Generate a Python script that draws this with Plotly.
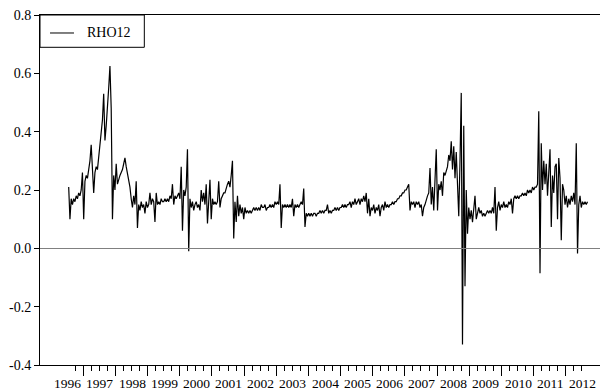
import numpy as np
import plotly.graph_objects as go

# RHO12 conditional correlation, read at roughly two-week intervals
rho12 = [
    0.21, 0.10, 0.17, 0.15, 0.17, 0.16, 0.18, 0.17,
    0.19, 0.18, 0.20, 0.26, 0.10, 0.23, 0.25, 0.24,
    0.27, 0.30, 0.355, 0.28, 0.19, 0.26, 0.28, 0.27,
    0.31, 0.36, 0.39, 0.44, 0.53, 0.37, 0.42, 0.47,
    0.55, 0.625, 0.48, 0.10, 0.25, 0.20, 0.29, 0.22,
    0.24, 0.25, 0.26, 0.27, 0.29, 0.31, 0.28, 0.26,
    0.24, 0.21, 0.17, 0.14, 0.18, 0.15, 0.23, 0.07,
    0.15, 0.13, 0.16, 0.14, 0.15, 0.12, 0.16, 0.14,
    0.15, 0.19, 0.15, 0.17, 0.16, 0.09, 0.19, 0.15,
    0.16, 0.15, 0.17, 0.16, 0.16, 0.17, 0.16, 0.17,
    0.16, 0.18, 0.17, 0.22, 0.15, 0.18, 0.17, 0.18,
    0.19, 0.17, 0.28, 0.06, 0.20, 0.18, 0.21, 0.34,
    -0.01, 0.17, 0.14, 0.16, 0.13, 0.15, 0.16, 0.14,
    0.15, 0.13, 0.20, 0.16, 0.19, 0.15, 0.22, 0.085,
    0.19, 0.235, 0.10, 0.17, 0.15, 0.16, 0.15, 0.16,
    0.23, 0.14, 0.17, 0.18, 0.19, 0.19, 0.21, 0.22,
    0.23, 0.21, 0.25, 0.30, 0.034, 0.16, 0.09, 0.18,
    0.11, 0.15, 0.12, 0.14, 0.10, 0.14, 0.12, 0.13,
    0.12, 0.13, 0.12, 0.13, 0.14, 0.13, 0.14, 0.13,
    0.14, 0.13, 0.15, 0.14, 0.14, 0.15, 0.13, 0.14,
    0.14, 0.15, 0.14, 0.15, 0.14, 0.16, 0.15, 0.16,
    0.15, 0.22, 0.07, 0.15, 0.14, 0.15, 0.14, 0.15,
    0.14, 0.15, 0.14, 0.17, 0.11, 0.15, 0.14, 0.15,
    0.14, 0.15, 0.16, 0.15, 0.205, 0.073, 0.12, 0.11,
    0.12, 0.11, 0.12, 0.11, 0.12, 0.12, 0.11, 0.12,
    0.12, 0.13, 0.12, 0.13, 0.12, 0.13, 0.13, 0.15,
    0.12, 0.13, 0.12, 0.13, 0.13, 0.14, 0.13, 0.14,
    0.13, 0.14, 0.14, 0.15, 0.14, 0.15, 0.14, 0.15,
    0.15, 0.16, 0.14, 0.16, 0.15, 0.17, 0.15, 0.16,
    0.17, 0.15, 0.17, 0.16, 0.18, 0.16, 0.19, 0.12,
    0.17, 0.11, 0.14, 0.13, 0.15, 0.12, 0.14, 0.13,
    0.15, 0.11, 0.14, 0.15, 0.13, 0.16, 0.14, 0.15,
    0.14, 0.15, 0.15, 0.16, 0.15, 0.16, 0.16, 0.17,
    0.17, 0.18, 0.18, 0.19, 0.19, 0.20, 0.20, 0.21,
    0.22, 0.13, 0.16, 0.15, 0.16, 0.14, 0.16, 0.15,
    0.16, 0.14, 0.15, 0.11, 0.14, 0.15, 0.17, 0.18,
    0.19, 0.275, 0.15, 0.21, 0.13, 0.24, 0.34, 0.13,
    0.22, 0.20, 0.23, 0.18, 0.26, 0.25, 0.27, 0.28,
    0.32, 0.30, 0.367, 0.27, 0.35, 0.24, 0.33, 0.22,
    0.11, 0.30, 0.533, -0.33, 0.42, -0.13, 0.20, 0.05,
    0.14, 0.10, 0.13, 0.09, 0.14, 0.18, 0.10, 0.12,
    0.14, 0.12, 0.13, 0.11, 0.12, 0.11, 0.12, 0.13,
    0.12, 0.13, 0.12, 0.14, 0.12, 0.21, 0.06, 0.14,
    0.16, 0.13, 0.15, 0.14, 0.16, 0.14, 0.15, 0.14,
    0.16, 0.15, 0.17, 0.12, 0.17, 0.18, 0.17, 0.18,
    0.17, 0.18, 0.18, 0.19, 0.18, 0.19, 0.18, 0.20,
    0.19, 0.20, 0.19, 0.21, 0.20, 0.21, 0.21, 0.22,
    0.47, -0.085, 0.36, 0.20, 0.30, 0.22, 0.29, 0.18,
    0.26, 0.34, 0.073, 0.25, 0.19, 0.28, 0.29, 0.10,
    0.31, 0.24, 0.028, 0.22, 0.20, 0.15, 0.18, 0.14,
    0.17, 0.15, 0.18, 0.16, 0.19, 0.15, 0.36, -0.018,
    0.15, 0.18, 0.14, 0.16, 0.15, 0.16, 0.15, 0.16,
]

# sample period (decimal years)
first_obs = 1996.546
last_obs = 2012.678

year_labels = [str(y) for y in range(1996, 2013)]
y_tick_vals = [0.8, 0.6, 0.4, 0.2, 0.0, -0.2, -0.4]
y_tick_text = ["0.8", "0.6", "0.4", "0.2", "0.0", "-0.2", "-0.4"]

x_range = [1995.654, 2013.066]
tick_range = [1996.75, 2012.5]

FONT = "Liberation Serif"

t = np.linspace(first_obs, last_obs, len(rho12))

fig = go.Figure()
fig.add_trace(go.Scatter(
    x=t, y=rho12, mode="lines", name="RHO12",
    line=dict(color="black", width=1.2), showlegend=False,
))
# empty trace that carries the quarterly tick axis
fig.add_trace(go.Scatter(x=[], y=[], xaxis="x2", yaxis="y",
                         showlegend=False, hoverinfo="skip"))

span = x_range[1] - x_range[0]
tick_domain = [(tick_range[0] - x_range[0]) / span,
               (tick_range[1] - x_range[0]) / span]

annotations = []
for lab in year_labels:
    annotations.append(dict(
        x=int(lab) + 1, xref="x", y=0, yref="paper",
        xanchor="right", yanchor="top", yshift=-9,
        text=lab, showarrow=False,
        font=dict(family=FONT, size=13.5, color="black"),
    ))

# legend box
legend_box = dict(type="rect", xref="paper", yref="paper",
                  x0=0, x1=0.1863, y0=0.9077, y1=1,
                  line=dict(color="black", width=1), fillcolor="white")
legend_line = dict(type="line", xref="paper", yref="paper",
                   x0=0.0179, x1=0.0607, y0=0.9486, y1=0.9486,
                   line=dict(color="black", width=1))
annotations.append(dict(
    x=0.0805, xref="paper", y=0.9486, yref="paper",
    xanchor="left", yanchor="middle", text="RHO12", showarrow=False,
    font=dict(family=FONT, size=14, color="black"),
))

fig.update_layout(
    width=600, height=391,
    margin=dict(l=40, r=0, t=15, b=26),
    paper_bgcolor="white", plot_bgcolor="rgba(0,0,0,0)",
    showlegend=False,
    xaxis=dict(
        range=x_range, showline=True, linecolor="black", linewidth=1,
        mirror=True, ticks="", showticklabels=False,
        showgrid=False, zeroline=False,
    ),
    xaxis2=dict(
        domain=tick_domain, anchor="y", range=tick_range,
        showline=False, ticks="outside", tickmode="linear",
        tick0=1997, dtick=1, ticklen=10, tickwidth=1, tickcolor="black",
        showticklabels=False, showgrid=False, zeroline=False,
        minor=dict(ticks="outside", tick0=1996.75, dtick=0.25, ticklen=5,
                   tickwidth=1, tickcolor="black", showgrid=False),
    ),
    yaxis=dict(
        range=[-0.4, 0.8], showline=True, linecolor="black", linewidth=1,
        ticks="outside", ticklen=5, tickwidth=1, tickcolor="black",
        tickvals=y_tick_vals, ticktext=y_tick_text,
        tickfont=dict(family=FONT, size=14, color="black"),
        showgrid=False, zeroline=True, zerolinecolor="#808080",
        zerolinewidth=1,
    ),
    shapes=[legend_box, legend_line],
    annotations=annotations,
)

fig.write_html("out.html")
